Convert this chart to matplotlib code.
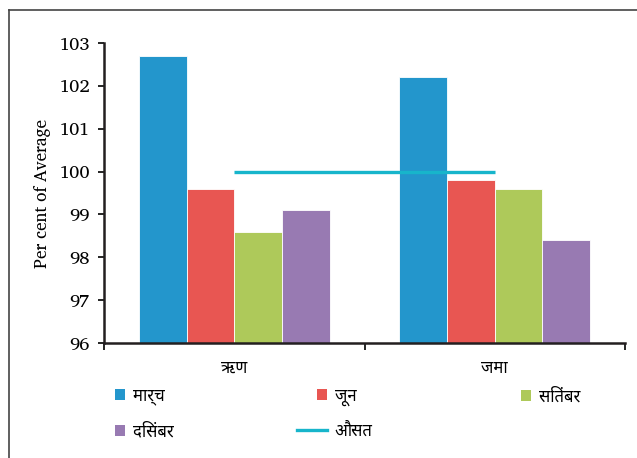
import matplotlib
matplotlib.use("Agg")
import matplotlib.pyplot as plt
import numpy as np
from matplotlib.lines import Line2D
from matplotlib.patches import Patch

# Loans / deposits as per cent of the yearly average, by quarter
categories = ["ऋण", "जमा"]
quarters = ["मार्च", "जून", "सितंबर", "दिसंबर"]
march = [102.7, 102.2]
june = [99.6, 99.8]
september = [98.6, 99.6]
december = [99.1, 98.4]
average = [100.0, 100.0]
average_label = "औसत"
y_ticks = [96, 97, 98, 99, 100, 101, 102, 103]
y_label = "Per cent of Average"

colors = ["#2396cc", "#e85652", "#aec95a", "#987ab2"]
avg_color = "#17b5cb"
hindi = ["Noto Sans Devanagari", "Hind", "Mukta", "DejaVu Sans"]
serif = ["Charis SIL", "PT Serif", "Liberation Serif"]

W, H = 637, 458
fig = plt.figure(figsize=(W / 100, H / 100), dpi=100)
ax = fig.add_axes([104 / W, 1 - 343 / H, 521 / W, 300 / H])

x = np.arange(len(categories))
width = 0.183
series = [march, june, september, december]
for i, vals in enumerate(series):
    ax.bar(x + (i - 1.5) * width, np.array(vals) - y_ticks[0], width,
           bottom=y_ticks[0], color=colors[i], edgecolor="#ffffff",
           linewidth=0.6, zorder=2)
ax.plot(x, average, color=avg_color, lw=2.4, solid_capstyle="butt", zorder=3)

ax.set_xlim(-0.5, 1.5)
ax.set_ylim(y_ticks[0], y_ticks[-1])
ax.set_yticks(y_ticks)
ax.set_yticklabels([str(t) for t in y_ticks], family=serif, fontsize=13)
ax.set_xticks([-0.5, 0.5, 1.5])
ax.set_xticklabels([])
ax.set_xticks(x, minor=True)
ax.set_xticklabels(categories, minor=True, family=hindi, fontsize=12)
ax.tick_params(axis="x", which="minor", length=0, pad=13)
ax.tick_params(axis="x", which="major", length=5, width=1.2, direction="out")
ax.tick_params(axis="y", length=4, width=1.2, direction="out", pad=6)
ax.set_ylabel(y_label, family=serif, fontsize=12.3, labelpad=6)

for side in ("top", "right"):
    ax.spines[side].set_visible(False)
for side in ("left", "bottom"):
    ax.spines[side].set_linewidth(1.8)
    ax.spines[side].set_color("#231f20")


def legend_entry(handle, label, px, py, hlen):
    """One legend item whose handle starts at pixel (px, py)."""
    leg = fig.legend([handle], [label], loc="center left",
                     bbox_to_anchor=(px / W, 1 - py / H),
                     frameon=False, borderpad=0, borderaxespad=0,
                     handlelength=hlen, handleheight=0.62,
                     handletextpad=0.45,
                     prop={"family": hindi, "size": 12})
    return leg


squares = [Patch(facecolor=c, edgecolor="none") for c in colors]
avg_handle = Line2D([], [], color=avg_color, lw=2.4)
legend_entry(squares[0], quarters[0], 115, 397, 0.62)
legend_entry(squares[1], quarters[1], 317, 397, 0.62)
legend_entry(squares[2], quarters[2], 521, 397, 0.62)
legend_entry(squares[3], quarters[3], 115, 432, 0.62)
legend_entry(avg_handle, average_label, 297, 432, 1.8)

# outer frame on the left and top
fig.add_artist(Line2D([9 / W, 9 / W], [0, 1 - 10 / H],
                      transform=fig.transFigure, color="#444444", lw=1.2))
fig.add_artist(Line2D([9 / W, 1], [1 - 10 / H, 1 - 10 / H],
                      transform=fig.transFigure, color="#444444", lw=1.2))

fig.savefig("out.png", dpi=100)
